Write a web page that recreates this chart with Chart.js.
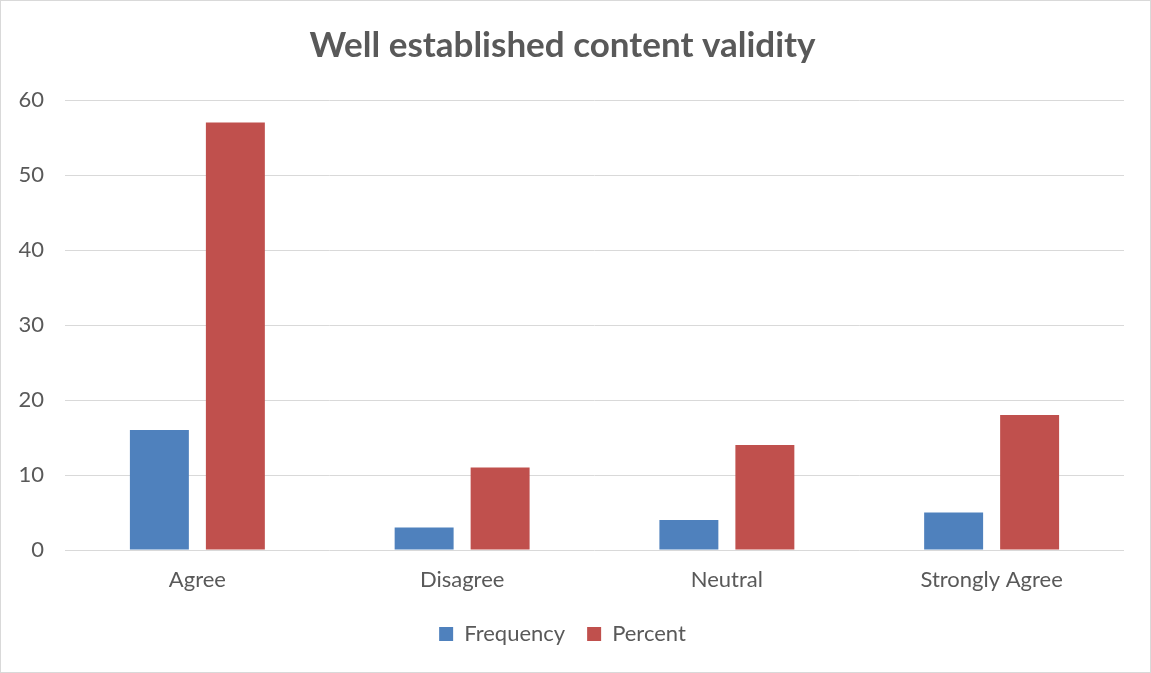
<!DOCTYPE html>
<html>
<head>
<meta charset="utf-8">
<script src="https://cdn.jsdelivr.net/npm/chart.js@4"></script>
<style>
  body { margin: 0; background: #fff; }
  #box { width: 1149px; height: 671px; border: 1px solid #d9d9d9; background: #fff; }
</style>
</head>
<body>
<div id="box"><canvas id="myChart" width="1149" height="671"></canvas></div>
<script>
// datos del grafico
const categories = ['Agree', 'Disagree', 'Neutral', 'Strongly Agree'];
const frequency = [16, 3, 4, 5];
const percent = [57, 11, 14, 18];
const yTicks = [0, 10, 20, 30, 40, 50, 60];

const textColor = '#595959';
const fontFamily = 'Lato, "Open Sans", sans-serif';

const ctx = document.getElementById('myChart').getContext('2d');
new Chart(ctx, {
    type: 'bar',
    data: {
        labels: categories,
        datasets: [{
            label: 'Frequency',
            data: frequency,
            backgroundColor: '#4f81bd'
        }, {
            label: 'Percent',
            data: percent,
            backgroundColor: '#c0504d'
        }]
    },
    options: {
        responsive: false,
        animation: false,
        layout: { padding: { left: 0, right: 26, top: 0, bottom: 17 } },
        datasets: {
            bar: { categoryPercentage: 0.574, barPercentage: 0.776 }
        },
        plugins: {
            title: {
                display: true,
                text: 'Well established content validity',
                color: textColor,
                font: { family: fontFamily, size: 35, weight: 'bold' },
                padding: { top: 24, bottom: 33 }
            },
            legend: {
                position: 'bottom',
                labels: {
                    color: textColor,
                    font: { family: fontFamily, size: 22 },
                    boxWidth: 14,
                    boxHeight: 14,
                    padding: 22
                }
            },
            tooltip: { enabled: false }
        },
        scales: {
            x: {
                grid: { display: false, drawTicks: false },
                border: { display: false },
                ticks: { color: textColor, font: { family: fontFamily, size: 22 }, padding: 17 },
                afterFit: scale => { scale.height = 51; }
            },
            y: {
                min: 0,
                max: 60,
                afterBuildTicks: scale => { scale.ticks = yTicks.map(v => ({ value: v })); },
                grid: { color: '#d9d9d9', lineWidth: 1, drawTicks: false },
                border: { display: false },
                ticks: { color: textColor, font: { family: fontFamily, size: 22 }, padding: 21 },
                afterFit: scale => { scale.width = 64; }
            }
        }
    }
});
</script>
</body>
</html>
